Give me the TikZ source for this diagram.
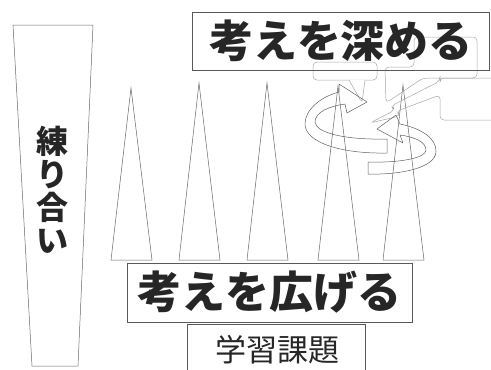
\documentclass[tikz,border=0pt]{standalone}
\usepackage{fontspec}
\usepackage{tikz}
\newfontfamily\jp{Noto Sans CJK JP}
\tikzset{
  cone/.style={draw=gray!80!black, line width=0.5pt, line join=miter},
  bubble/.style={draw=gray!70, line width=0.5pt, rounded corners=4pt},
  ribbon/.style={draw=gray!75!black, line width=0.5pt, line join=round},
  titlebox/.style={draw=gray!70!black, line width=0.7pt, inner sep=0pt, text=black!85, font=\jp\bfseries\fontsize{44}{44}\selectfont},
}

\begin{document}
\begin{tikzpicture}[x=1pt, y=-1pt]
  \useasboundingbox (0,0) rectangle (491,370);

  % left wedge
  \draw[cone] (13,25) -- (93,25) -- (78,366) -- (32,366) -- cycle;
  \node[align=center, text=black!85, font=\jp\bfseries\fontsize{32}{33}\selectfont] (neri) at (52,190) {練\\り\\合\\い};

  % cones
  \foreach \x/\t in {131/88, 199/83, 267/83, 338/86, 403/85}
    \draw[cone] (\x-20,260) -- (\x,\t) -- (\x+21,260) -- cycle;

  % speech bubbles
  \draw[bubble] (313,62) rectangle (377,80);
  \draw[bubble, fill=white] (349,80) -- (362,103) -- (365,80);
  \draw[bubble] (414,67) -- (414,37) -- (477,37) -- (477,78) -- (423,78)
    -- (386,103) -- (385,67) -- cycle;
  \draw[bubble] (500,78) -- (440,78) -- (440,81) -- (391,106) -- (395,110)
    -- (370,123) -- (400,116) -- (397,111) -- (440,95) -- (440,120) -- (500,120);

  % round arrows
  \draw[ribbon] (387,139) .. controls (345,140) and (316,133) .. (315,122)
    .. controls (315,112) and (330,106) .. (345,104)
    -- (347,113) -- (367,102) -- (339,84) -- (339,92)
    .. controls (320,97) and (305,110) .. (305,124)
    .. controls (305,142) and (340,154) .. (387,153) -- cycle;
  \draw[ribbon] (368,162) .. controls (400,163) and (426,158) .. (426,150)
    .. controls (426,142) and (415,137) .. (400,135)
    -- (403,143) -- (377,129) -- (396,115) -- (400,124)
    .. controls (420,128) and (437,138) .. (436,152)
    .. controls (435,168) and (400,175) .. (368,174) -- cycle;

  % boxes
  \node[titlebox, minimum width=297pt, minimum height=58pt] (deep) at (341,41) {考えを深める};
  \node[titlebox, minimum width=285pt, minimum height=59pt] (wide) at (269.5,292.5) {考えを広げる};
  \node[titlebox, minimum width=178pt, minimum height=56pt, anchor=north] (task) at (276,324) {};
  \node[text=black!85, font=\jp\fontsize{31}{31}\selectfont] (tasktext) at (277,350) {学習課題};

\end{tikzpicture}
\end{document}
